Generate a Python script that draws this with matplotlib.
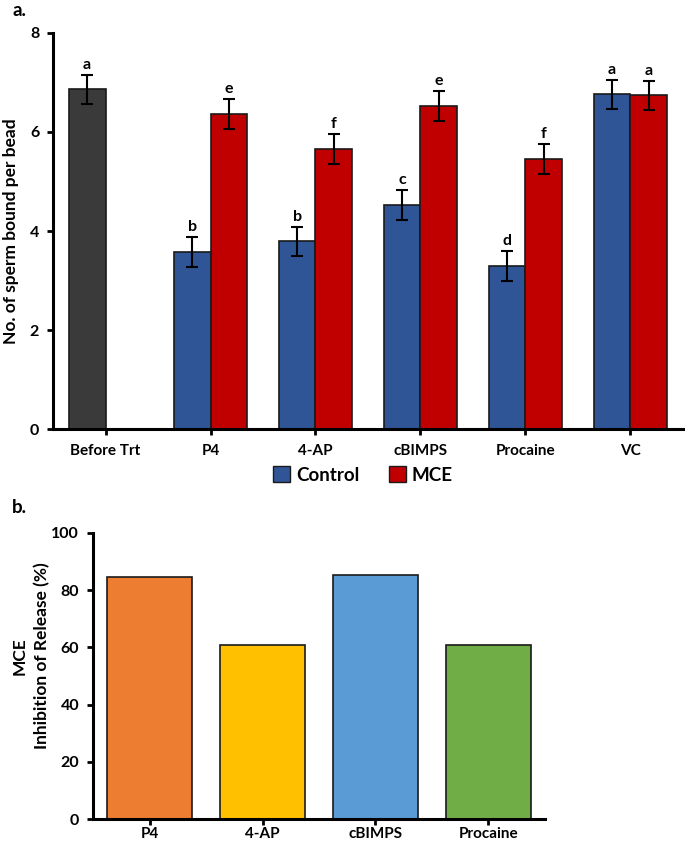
import numpy as np
import matplotlib
matplotlib.use("Agg")
import matplotlib.pyplot as plt
from matplotlib.patches import Patch

plt.rcParams['font.family'] = ['Lato', 'DejaVu Sans']
plt.rcParams['font.weight'] = 'bold'

# panel a data
groups = ["Before Trt", "P4", "4-AP", "cBIMPS", "Procaine", "VC"]
before_val = 6.86
before_err = 0.30
control_vals = [3.57, 3.79, 4.53, 3.29, 6.76]
control_err = [0.30, 0.30, 0.30, 0.30, 0.30]
mce_vals = [6.36, 5.66, 6.53, 5.45, 6.74]
mce_err = [0.30, 0.30, 0.30, 0.30, 0.30]
before_letter = "a"
control_letters = ["b", "b", "c", "d", "a"]
mce_letters = ["e", "f", "e", "f", "a"]

# panel b data
inhib_groups = ["P4", "4-AP", "cBIMPS", "Procaine"]
inhib_vals = [84.7, 60.8, 85.4, 60.7]
inhib_colors = ["#ED7D31", "#FFC000", "#5B9BD5", "#70AD47"]

c_ctrl = "#2F5597"
c_mce = "#C00000"
c_before = "#3A3A3A"
edge = "#1a1a1a"

fig = plt.figure(figsize=(6.85, 8.46), dpi=100)

# ---- panel a ----
ax = fig.add_axes([0.0774, 0.4929, 0.9196, 0.4681])
w = 0.35
x = np.arange(len(groups))
ax.bar(x[0] - w / 2, before_val, w, color=c_before, edgecolor=edge, linewidth=1.2)
ax.errorbar(x[0] - w / 2, before_val, yerr=before_err, fmt='none', ecolor='black',
            elinewidth=1.5, capsize=4, capthick=1.5)
ax.text(x[0] - w / 2, before_val + before_err + 0.06, before_letter, ha='center',
        va='bottom', fontsize=11.5, fontweight='bold')

xc = x[1:] - w / 2
xm = x[1:] + w / 2
ax.bar(xc, control_vals, w, color=c_ctrl, edgecolor=edge, linewidth=1.2, zorder=2)
ax.bar(xm, mce_vals, w, color=c_mce, edgecolor=edge, linewidth=1.2, zorder=2)
ax.errorbar(xc, control_vals, yerr=control_err, fmt='none', ecolor='black',
            elinewidth=1.5, capsize=4, capthick=1.5, zorder=3)
ax.errorbar(xm, mce_vals, yerr=mce_err, fmt='none', ecolor='black',
            elinewidth=1.5, capsize=4, capthick=1.5, zorder=3)
for xi, v, e, lt in zip(xc, control_vals, control_err, control_letters):
    ax.text(xi, v + e + 0.06, lt, ha='center', va='bottom', fontsize=11.5, fontweight='bold')
for xi, v, e, lt in zip(xm, mce_vals, mce_err, mce_letters):
    ax.text(xi, v + e + 0.06, lt, ha='center', va='bottom', fontsize=11.5, fontweight='bold')

ax.set_xlim(-0.5, 5.5)
ax.set_ylim(0, 8)
ax.set_yticks([0, 2, 4, 6, 8])
ax.set_xticks(x)
ax.set_xticklabels(groups, fontsize=11, fontweight='bold')
ax.tick_params(axis='y', labelsize=11.5, width=2, length=4, pad=6)
ax.tick_params(axis='x', width=2, length=4, pad=7)
for lab in ax.get_yticklabels():
    lab.set_fontweight('bold')
ax.spines['top'].set_visible(False)
ax.spines['right'].set_visible(False)
ax.spines['left'].set_linewidth(2.2)
ax.spines['bottom'].set_linewidth(2.2)
ax.set_ylabel("No. of sperm bound per bead", fontsize=12.5, fontweight='bold', labelpad=8)

handles = [Patch(facecolor=c_ctrl, edgecolor=edge, label="Control"),
           Patch(facecolor=c_mce, edgecolor=edge, label="MCE")]
fig.legend(handles=handles, loc='center', bbox_to_anchor=(0.53, 1 - 475 / 846), ncol=2,
           frameon=False, prop={'size': 13.5, 'weight': 'bold'}, handlelength=0.9,
           handleheight=0.9, handletextpad=0.3, columnspacing=1.6)

fig.text(0.018, 0.988, "a.", fontsize=13.5, fontweight='bold', va='center')

# ---- panel b ----
bx = fig.add_axes([0.1358, 0.0319, 0.6598, 0.3381])
xb = np.arange(len(inhib_groups))
bx.bar(xb, inhib_vals, 0.76, color=inhib_colors, edgecolor=edge, linewidth=1.2)
bx.set_xlim(-0.5, 3.5)
bx.set_ylim(0, 100)
bx.set_yticks([0, 20, 40, 60, 80, 100])
bx.set_xticks(xb)
bx.set_xticklabels(inhib_groups, fontsize=11, fontweight='bold')
bx.tick_params(axis='y', labelsize=11.5, width=2, length=4, pad=6)
bx.tick_params(axis='x', width=2, length=4, pad=2)
for lab in bx.get_yticklabels():
    lab.set_fontweight('bold')
bx.spines['top'].set_visible(False)
bx.spines['right'].set_visible(False)
bx.spines['left'].set_linewidth(2.2)
bx.spines['bottom'].set_linewidth(2.2)
bx.set_ylabel("MCE\nInhibition of Release (%)", fontsize=12.5, fontweight='bold',
              linespacing=1.45)
bx.yaxis.set_label_coords(-0.095, 0.57)

fig.text(0.018, 1 - 507 / 846, "b.", fontsize=13.5, fontweight='bold', va='center')

fig.savefig("out.png", dpi=100)
